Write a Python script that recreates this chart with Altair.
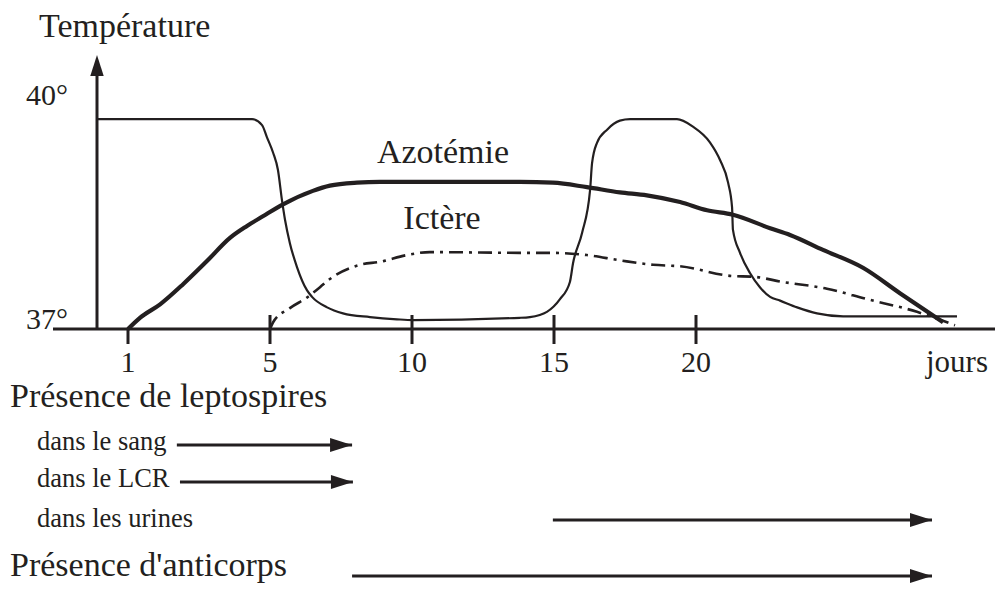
import altair as alt
import pandas as pd

# ---------------- data (x = days since onset, "1" tick at 0; y = temperature °C)
temp_days = [-1.09, 4.37, 4.72, 4.89, 5.11, 5.28, 5.42, 5.53, 5.70, 5.95, 6.30, 6.48, 7.01, 7.57,
             8.52, 9.47, 10.04, 13.80, 14.15, 14.75, 15.21, 15.56, 15.67, 15.99, 16.27, 16.34,
             16.51, 16.87, 17.32, 17.68, 19.33, 19.89, 20.49, 20.85, 21.13, 21.27, 21.30, 21.55,
             21.90, 22.25, 22.61, 22.96, 23.56, 24.26, 25.18, 29.19]
temp_vals = [39.81, 39.81, 39.73, 39.57, 39.36, 39.13, 38.73, 38.46, 38.15, 37.83, 37.52, 37.43,
             37.29, 37.21, 37.16, 37.13, 37.12, 37.15, 37.16, 37.23, 37.40, 37.63, 37.88, 38.29,
             38.86, 39.22, 39.49, 39.67, 39.79, 39.81, 39.81, 39.71, 39.50, 39.26, 38.96, 38.63,
             38.33, 38.02, 37.75, 37.56, 37.43, 37.38, 37.29, 37.21, 37.17, 37.17]

azot_days = [0.0, 0.42, 1.13, 1.94, 2.78, 3.59, 4.19, 4.75, 5.46, 6.51, 7.11, 8.06, 8.87, 10.63,
             13.80, 14.96, 16.16, 17.32, 18.27, 19.44, 20.39, 21.30, 22.61, 23.31, 24.47, 25.88,
             27.18, 28.70]
azot_vals = [37.0, 37.15, 37.33, 37.60, 37.91, 38.22, 38.38, 38.51, 38.67, 38.85, 38.92, 38.96,
             38.97, 38.97, 38.97, 38.96, 38.90, 38.83, 38.79, 38.70, 38.59, 38.53, 38.35, 38.26,
             38.06, 37.82, 37.48, 37.09]

ict_days = [5.0, 5.11, 5.70, 6.30, 6.76, 7.11, 8.17, 8.87, 9.82, 10.63, 13.80, 14.96, 16.16,
            17.32, 18.49, 19.44, 21.27, 22.01, 23.06, 24.61, 26.02, 27.78, 29.12]
ict_vals = [37.0, 37.09, 37.28, 37.42, 37.56, 37.67, 37.86, 37.90, 37.99, 38.03, 38.02, 38.02,
            37.99, 37.92, 37.86, 37.84, 37.71, 37.70, 37.63, 37.54, 37.40, 37.23, 37.05]

tick_days = [0, 5, 10, 15, 20]
tick_labels = ["1", "5", "10", "15", "20"]

arrow_names = ["dans le sang", "dans le LCR", "dans les urines", "Présence d'anticorps"]
arrow_start = [1.72, 1.83, 14.96, 7.89]
arrow_end = [7.89, 7.92, 28.31, 28.31]

# ---------------- layout constants
W, H = 987, 576
PX_DAY = 28.4
PX_DEG = 224 / 3
X0 = 120          # chart x of day 0
Y37 = 321         # chart y of 37°
XMIN = -X0 / PX_DAY
XMAX = (W - X0) / PX_DAY
YMAX = 37 + Y37 / PX_DEG
YMIN = 37 - (H - Y37) / PX_DEG

def ty(page_y):
    return 37 + (329 - page_y) / PX_DEG

def tx(page_x):
    return (page_x - 128) / PX_DAY

INK = "#231f20"
FONT = "Liberation Serif"

xs = alt.Scale(domain=[XMIN, XMAX], nice=False, zero=False)
ys = alt.Scale(domain=[YMIN, YMAX], nice=False, zero=False)

def X(f="day"):
    return alt.X(f"{f}:Q", scale=xs, axis=None)

def Y(f="temp"):
    return alt.Y(f"{f}:Q", scale=ys, axis=None)

# ---------------- curves
def curve(days, vals, **kw):
    df = pd.DataFrame({"day": days, "temp": vals, "i": range(len(days))})
    return alt.Chart(df).mark_line(color=INK, **kw).encode(x=X(), y=Y(), order="i:Q")

temp_line = curve(temp_days, temp_vals, strokeWidth=2.2, interpolate="monotone")
azot_line = curve(azot_days, azot_vals, strokeWidth=4.2, interpolate="monotone")
ict_line = curve(ict_days, ict_vals, strokeWidth=2.6, interpolate="monotone",
                 strokeDash=[14, 6, 3, 6])

# ---------------- axes frame
axis_df = pd.DataFrame({"day": [tx(53)], "day2": [XMAX], "temp": [37.0]})
x_axis = alt.Chart(axis_df).mark_rule(color=INK, strokeWidth=3).encode(
    x=X(), x2="day2:Q", y=Y())

yaxis_df = pd.DataFrame({"day": [tx(97)], "temp": [37.0], "temp2": [ty(74)]})
y_axis = alt.Chart(yaxis_df).mark_rule(color=INK, strokeWidth=3).encode(
    x=X(), y=Y(), y2="temp2:Q")

yhead_df = pd.DataFrame({"day": [tx(97)], "temp": [ty(55)]})
y_head = alt.Chart(yhead_df).mark_point(
    shape="M0,0L-0.64,2L0.64,2Z", filled=True, opacity=1, color=INK, strokeWidth=0,
    size=441).encode(x=X(), y=Y())

tick_df = pd.DataFrame({
    "day": tick_days,
    "top": [37.0 if d == 0 else ty(315) for d in tick_days],
    "bot": [ty(344)] * len(tick_days),
    "label": tick_labels,
    "ly": [ty(372)] * len(tick_days),
})
ticks = alt.Chart(tick_df).mark_rule(color=INK, strokeWidth=3).encode(
    x=X(), y=Y("top"), y2="bot:Q")
tick_text = alt.Chart(tick_df).mark_text(
    font=FONT, fontSize=30, color=INK, align="center", baseline="alphabetic").encode(
    x=X(), y=Y("ly"), text="label:N")

jours_df = pd.DataFrame({"day": [tx(957)], "temp": [ty(372)], "t": ["jours"]})
jours = alt.Chart(jours_df).mark_text(
    font=FONT, fontSize=31, color=INK, align="center", baseline="alphabetic").encode(
    x=X(), y=Y(), text="t:N")

ylab_df = pd.DataFrame({"day": [tx(68), tx(68)], "temp": [40.0, 37.0], "t": ["40°", "37°"]})
ylabels = alt.Chart(ylab_df).mark_text(
    font=FONT, fontSize=30, color=INK, align="right", baseline="alphabetic").encode(
    x=X(), y=Y(), text="t:N")

# ---------------- big labels
big_df = pd.DataFrame({
    "day": [tx(39), tx(10), tx(10)],
    "temp": [ty(37), ty(407), ty(576)],
    "t": ["Température", "Présence de leptospires", "Présence d'anticorps"],
})
big = alt.Chart(big_df).mark_text(
    font=FONT, fontSize=34, color=INK, align="left", baseline="alphabetic").encode(
    x=X(), y=Y(), text="t:N")

curve_lab_df = pd.DataFrame({
    "day": [tx(443), tx(442)],
    "temp": [ty(163), ty(229)],
    "t": ["Azotémie", "Ictère"],
})
curve_lab = alt.Chart(curve_lab_df).mark_text(
    font=FONT, fontSize=34, color=INK, align="center", baseline="alphabetic").encode(
    x=X(), y=Y(), text="t:N")

sub_df = pd.DataFrame({
    "day": [tx(37)] * 3,
    "temp": [ty(450), ty(487), ty(527)],
    "t": ["dans le sang", "dans le LCR", "dans les urines"],
})
sub = alt.Chart(sub_df).mark_text(
    font=FONT, fontSize=26.5, color=INK, align="left", baseline="alphabetic").encode(
    x=X(), y=Y(), text="t:N")

# ---------------- arrows
arrow_df = pd.DataFrame({
    "name": arrow_names,
    "day": arrow_start,
    "day2": arrow_end,
    "temp": [ty(445), ty(482), ty(520), ty(576)],
})
arrow_lines = alt.Chart(arrow_df).mark_rule(color=INK, strokeWidth=3).encode(
    x=X(), x2="day2:Q", y=Y())
arrow_heads = alt.Chart(arrow_df).mark_point(
    shape="M-2,-0.64L0,0L-2,0.64Z", filled=True, opacity=1, color=INK, strokeWidth=0,
    size=484).encode(x=X("day2"), y=Y())

chart = alt.layer(
    x_axis, y_axis, y_head, ticks, tick_text, jours, ylabels,
    temp_line, azot_line, ict_line,
    big, curve_lab, sub, arrow_lines, arrow_heads,
).properties(
    width=W, height=H, padding=0, autosize=alt.AutoSizeParams(type="none"),
    background="white",
).configure_view(stroke=None)

chart.save("out.html", embed_options={"renderer": "svg", "actions": False})
